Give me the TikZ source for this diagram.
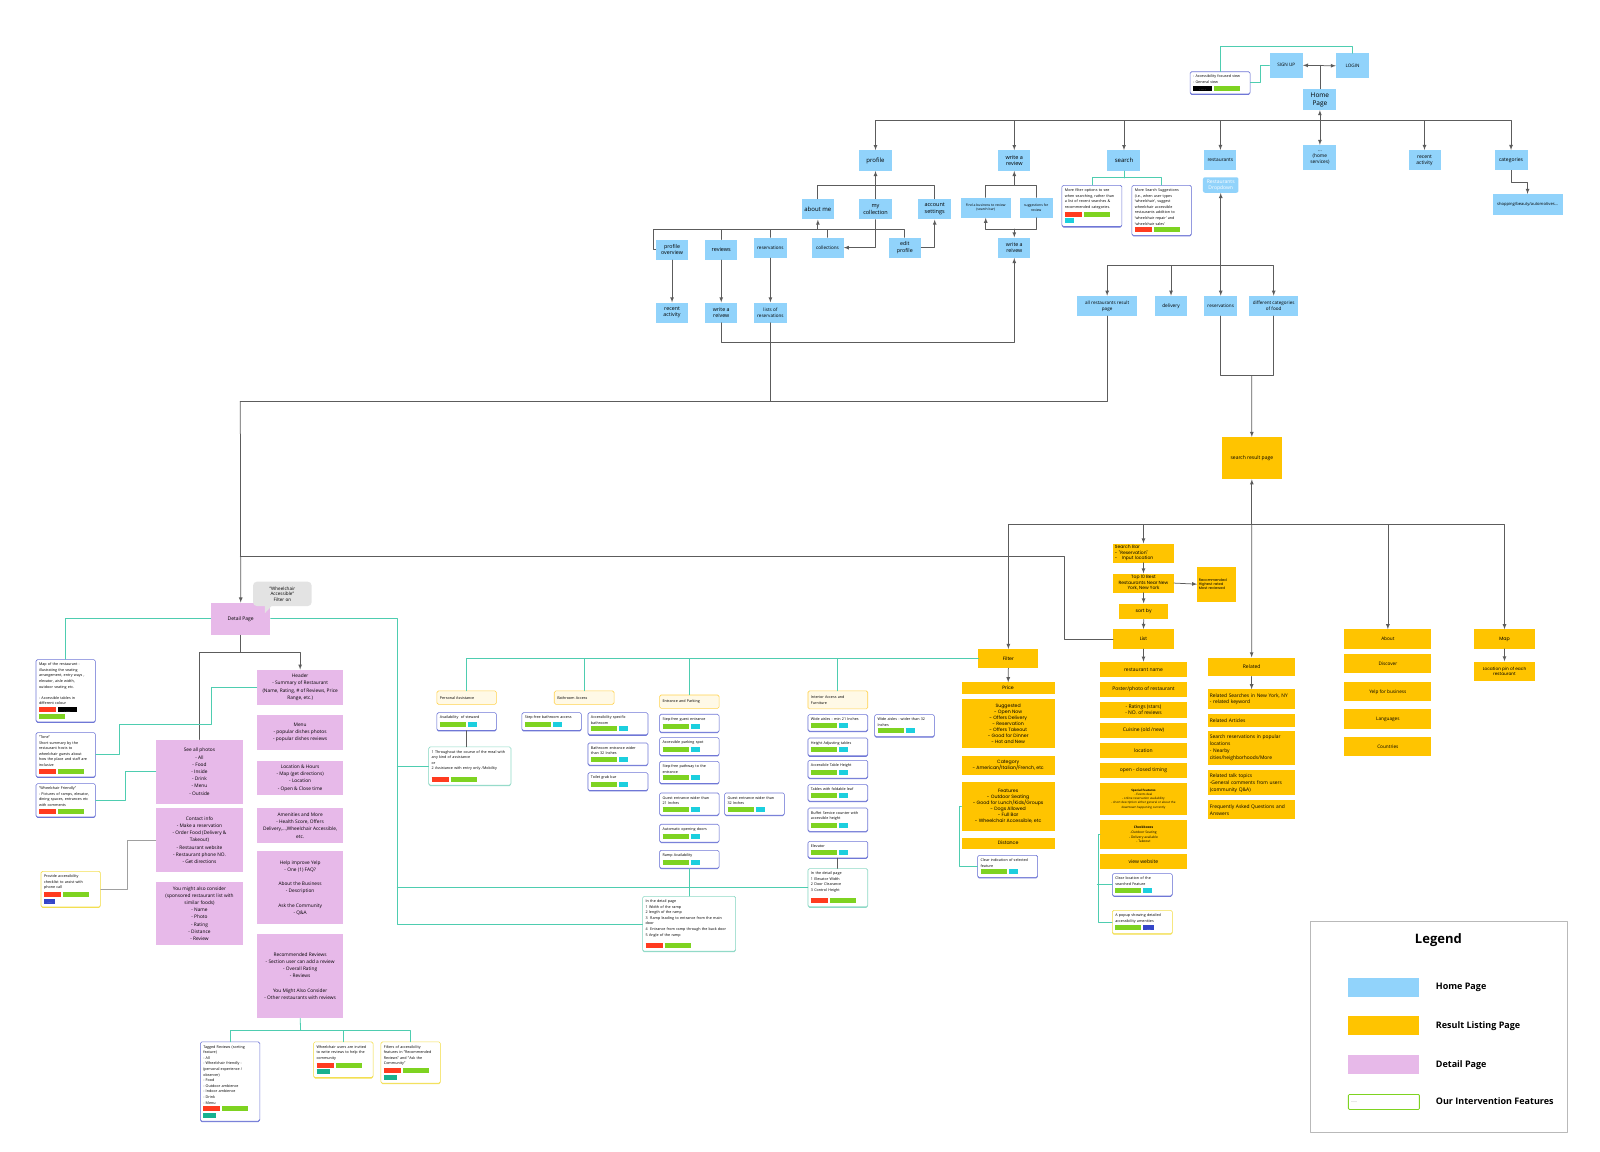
\documentclass[tikz,border=0pt]{standalone}
\usepackage{fontspec}
\setmainfont{Open Sans}
\newfontfamily\popfont{Poppins}
\usetikzlibrary{shadows}

\definecolor{hpblue}{HTML}{91D3FB}
\definecolor{rlorange}{HTML}{FFC400}
\definecolor{dppink}{HTML}{E7B9E9}
\definecolor{ivblue}{HTML}{6F77D6}
\definecolor{ivyellow}{HTML}{F3DF52}
\definecolor{ivteal}{HTML}{8ED9C6}
\definecolor{hdfill}{HTML}{FFF9E6}
\definecolor{hdedge}{HTML}{FFD24D}
\definecolor{linegray}{HTML}{5C5C5C}
\definecolor{paleline}{HTML}{A0A0A0}
\definecolor{tealc}{HTML}{4ECDB0}
\definecolor{barred}{HTML}{FF3B1F}
\definecolor{bargreen}{HTML}{7ED321}
\definecolor{barcyan}{HTML}{1CCFDE}
\definecolor{barblue}{HTML}{3446C8}
\definecolor{barteal}{HTML}{17B190}
\definecolor{bubblegray}{HTML}{E3E3E3}

\newcommand{\redbar}{\textcolor{barred}{\rule{17pt}{5pt}}}
\newcommand{\greenbar}{\textcolor{bargreen}{\rule{26pt}{5pt}}}
\newcommand{\cyanbar}{\textcolor{barcyan}{\rule{9pt}{5pt}}}
\newcommand{\tealbar}{\textcolor{barteal}{\rule{13pt}{5pt}}}
\newcommand{\blackbar}{\textcolor{black}{\rule{19pt}{5pt}}\hspace{-19pt}\makebox[19pt]{\textcolor{white}{\fontsize{3}{3}\selectfont .\,.\,.\,.\,.}}}
\newcommand{\bluebar}{\textcolor{barblue}{\rule{11pt}{5pt}}\hspace{-11pt}\makebox[11pt]{\textcolor{white}{\fontsize{2.5}{3}\selectfont ......}}}

\begin{document}
\begin{tikzpicture}[x=1.0204pt,y=-1.0204pt,line cap=round,line join=round,>=latex,
  hp/.style={fill=hpblue,inner sep=1pt,align=center,font=\fontsize{6}{7}\selectfont},
  rl/.style={fill=rlorange,inner sep=1.5pt,align=center,font=\fontsize{5}{6.5}\selectfont},
  pop/.style={rl,font=\popfont\fontsize{4.7}{6}\selectfont},
  dp/.style={fill=dppink,inner sep=1pt,align=center,font=\fontsize{4.8}{7.2}\selectfont},
  ivbase/.style={fill=white,line width=0.6pt,rounded corners=1.5pt,anchor=north west,align=left,
    inner xsep=3pt,inner ysep=3.3pt,font=\fontsize{3.7}{5.6}\selectfont},
  iv/.style={ivbase,draw=ivblue,drop shadow={shadow xshift=0pt,shadow yshift=-1pt,fill=ivblue,opacity=1}},
  ivy/.style={ivbase,draw=ivyellow,drop shadow={shadow xshift=0pt,shadow yshift=-1pt,fill=ivyellow,opacity=1}},
  ivt/.style={ivbase,draw=ivteal,drop shadow={shadow xshift=0pt,shadow yshift=-1pt,fill=ivteal,opacity=1}},
  hd/.style={fill=hdfill,draw=hdedge,line width=0.6pt,rounded corners=1.5pt,anchor=north west,align=left,
    inner xsep=3pt,font=\fontsize{3.7}{5.6}\selectfont},
  gl/.style={draw=linegray,line width=0.75pt},
  pl/.style={draw=paleline,line width=0.75pt},
  tl/.style={draw=tealc,line width=0.8pt}]
  \useasboundingbox (0,0) rectangle (1568,1128);

  % home page: top
  \node[hp,minimum width=33,minimum height=25,font=\fontsize{4.6}{5.5}\selectfont] (signup) at (1260.5,64) {SIGN UP};
  \node[hp,minimum width=33,minimum height=25,font=\fontsize{4.6}{5.5}\selectfont] (login) at (1325.5,64.5) {LOGIN};
  \node[hp,minimum width=33,minimum height=21,font=\fontsize{6.5}{8}\selectfont] (home) at (1293.5,97.5) {Home\\Page};
  \node[iv,text width=54pt] (accview) at (1166,70) {- Accessibility focused view\\- General view\\[1.5pt]\blackbar\hspace{2pt}\greenbar};
  \draw[gl,<->] (signup.east) -- (login.west);
  \draw[gl] (home.north) -- (home.north |- signup.east);
  \draw[tl] (accview.north) -- ++(0,-24.3) -| (login.north);
  \draw[tl] (signup.west) -- ++(-9.3,0) |- (accview.east);

  % home page: menu bar
  \coordinate (hbus) at (1293.5,117.6);
  \node[hp,minimum width=33,minimum height=20.5] (profile) at (858,157.3) {profile};
  \node[hp,minimum width=32,minimum height=20.5,font=\fontsize{5.5}{6.8}\selectfont] (writetop) at (994,157.3) {write a\\review};
  \node[hp,minimum width=33,minimum height=20.5] (search) at (1101.5,157.3) {search};
  \node[hp,minimum width=32,minimum height=20,font=\fontsize{4.8}{6}\selectfont] (restaurants) at (1196,157) {restaurants};
  \node[hp,minimum width=35.5,minimum height=15.5,rounded corners=2pt,text=white,font=\fontsize{5}{6}\selectfont] (dropdown) at (1196.3,181.3) {Restaurants\\Dropdown};
  \node[hp,minimum width=33,minimum height=25,font=\fontsize{4.8}{6}\selectfont] (homesvc) at (1293.5,154.5) {...\\(home\\services)};
  \node[hp,minimum width=32,minimum height=20,font=\fontsize{5}{6.5}\selectfont] (recentact) at (1396,157) {recent\\activity};
  \node[hp,minimum width=33,minimum height=20,font=\fontsize{5}{6}\selectfont] (categories) at (1480.8,157) {categories};
  \node[hp,minimum width=70,minimum height=21,font=\fontsize{4.1}{5}\selectfont] (shopping) at (1497,200.5) {shopping/beauty/automotives...};
  \draw[gl,<->] (home.south) -- (homesvc.north);
  \draw[gl,->] (hbus) -| (profile.north);
  \draw[gl,->] (hbus) -| (writetop.north);
  \draw[gl,->] (hbus) -| (search.north);
  \draw[gl,->] (hbus) -| (restaurants.north);
  \draw[gl,->] (hbus) -| (recentact.north);
  \draw[gl,->] (hbus) -| (categories.north);
  \draw[gl,->] (categories.south) -- ++(0,11.6) -| (shopping.north);

  % profile
  \node[hp,minimum width=32,minimum height=20.5] (aboutme) at (801.5,205) {about me};
  \node[hp,minimum width=33,minimum height=20.5,font=\fontsize{5.5}{6.8}\selectfont] (mycoll) at (858,205) {my\\collection};
  \node[hp,minimum width=33,minimum height=20.5,font=\fontsize{5.5}{6.8}\selectfont] (acctset) at (916,205) {account\\settings};
  \node[hp,minimum width=32.4,minimum height=20.2,font=\fontsize{5.3}{6.6}\selectfont] (profov) at (658.6,244.7) {profile\\overview};
  \node[hp,minimum width=32.4,minimum height=20.2,font=\fontsize{5.5}{6.8}\selectfont] (reviews) at (706.8,244.7) {reviews};
  \node[hp,minimum width=33,minimum height=20.2,font=\fontsize{4.6}{6}\selectfont] (reserv) at (755,242.7) {reservations};
  \node[hp,minimum width=32,minimum height=20.2,font=\fontsize{4.6}{6}\selectfont] (collections) at (811,242.7) {collections};
  \node[hp,minimum width=32.4,minimum height=20.2,font=\fontsize{5.3}{6.6}\selectfont] (editprof) at (886.7,242.7) {edit\\profile};
  \node[hp,minimum width=32.4,minimum height=20,font=\fontsize{5.3}{6.6}\selectfont] (recent2) at (658.6,306.3) {recent\\activity};
  \node[hp,minimum width=32.4,minimum height=20,font=\fontsize{5.3}{6.6}\selectfont] (writeb) at (706.8,306.3) {write a\\reivew};
  \node[hp,minimum width=33,minimum height=20,font=\fontsize{4.6}{6}\selectfont] (listres) at (755,306.3) {lists of\\reservations};
  \coordinate (abar) at (801.5,224.4);
  \draw[gl,->] (mycoll.north) -- (profile.south);
  \draw[gl] (aboutme.north) -- ++(0,-13.4) -| (acctset.north);
  \draw[gl,->] (abar) -- (aboutme.south);
  \draw[gl] (profov.west) -- ++(-2,0) |- (abar);
  \draw[gl] (reviews.north) |- (abar);
  \draw[gl] (reserv.north) |- (abar);
  \draw[gl] (collections.north) |- (abar);
  \draw[gl] (editprof.north) |- (abar);
  \draw[gl,->] (mycoll.south) |- (collections.east);
  \draw[gl,->] (editprof.east) -| (acctset.south);
  \draw[gl,->] (profov.south) -- (recent2.north);
  \draw[gl,->] (reviews.south) -- (writeb.north);
  \draw[gl,->] (reserv.south) -- (listres.north);

  % write a review
  \node[hp,minimum width=49.7,minimum height=20,font=\fontsize{3.4}{4.6}\selectfont] (findbiz) at (966,203.4) {Find a business to review\\(search bar)};
  \node[hp,minimum width=32.7,minimum height=20,font=\fontsize{3.4}{4.6}\selectfont] (suggest) at (1015.5,203.4) {suggestions for\\review};
  \node[hp,minimum width=32.4,minimum height=20.2,font=\fontsize{5.3}{6.6}\selectfont] (writemid) at (994,242.7) {write a\\reivew};
  \coordinate (wbar) at (994,181.6);
  \coordinate (wjoin) at (994,224.4);
  \draw[gl,->] (wbar) -- (writetop.south);
  \draw[gl] (findbiz.north) |- (wbar) -| (suggest.north);
  \draw[gl,<-] (findbiz.south) |- (wjoin);
  \draw[gl] (suggest.south) |- (wjoin);
  \draw[gl,->] (wjoin) -- (writemid.north);
  \draw[gl,->] (writeb.south) -- ++(0,19.2) -| (writemid.south);

  % search
  \node[iv,text width=54pt] (sbox1) at (1040.4,181.3) {More filter options to see\\when searching, rather than\\a list of recent searches \&\\recommended categories.\\[1.5pt]\redbar\hspace{2pt}\greenbar\\[1pt]\cyanbar};
  \node[iv,text width=53.5pt] (sbox2) at (1109,181.3) {More Search Suggestions\\(i.e., when user types\\'wheelchair', suggest\\wheelchair accessible\\restaurants addition to\\'wheelchair repair' and\\'wheelchair sales'\\[1.5pt]\redbar\hspace{2pt}\greenbar};
  \coordinate (sbar) at (1101.5,174.3);
  \draw[tl] (search.south) -- (sbar);
  \draw[tl] (sbox1.north) |- (sbar) -| (sbox2.north);

  % restaurants dropdown
  \node[hp,minimum width=59.8,minimum height=20,font=\fontsize{4.6}{6}\selectfont] (allres) at (1085,299.8) {all restaurants result\\page};
  \node[hp,minimum width=32.6,minimum height=20,font=\fontsize{4.8}{6}\selectfont] (delivery) at (1147.6,299.8) {delivery};
  \node[hp,minimum width=32.6,minimum height=20,font=\fontsize{4.6}{6}\selectfont] (resv2) at (1196.3,299.8) {reservations};
  \node[hp,minimum width=49.6,minimum height=20,font=\fontsize{4.6}{6}\selectfont] (diffcat) at (1248.2,299.8) {different categories\\of food};
  \node[rl,minimum width=60.4,minimum height=42,font=\fontsize{5}{6}\selectfont] (srp) at (1226.8,449) {search result page};
  \coordinate (rbar) at (1196.3,260);
  \coordinate (srpin) at (1226.6,368.2);
  \draw[gl,<-] (dropdown.south) -- (rbar);
  \draw[gl,->] (rbar) -| (allres.north);
  \draw[gl,->] (rbar) -| (delivery.north);
  \draw[gl,->] (rbar) -- (resv2.north);
  \draw[gl,->] (rbar) -| (diffcat.north);
  \draw[gl] (resv2.south) |- (srpin);
  \draw[gl] (diffcat.south) |- (srpin);
  \draw[gl,->] (srpin) -- (srp.north);

  % result listing page
  \coordinate (rsbus) at (1226.8,513.5);
  \node[pop,minimum width=60,minimum height=19] (filter) at (988.2,645.5) {Filter};
  \node[pop,minimum width=93,minimum height=11.4] (price) at (988,674.4) {Price};
  \node[pop,minimum width=93,minimum height=49] (suggested) at (988,709.5) {Suggested\\- Open Now\\- Offers Delivery\\- Reservation\\- Offers Takeout\\- Good for Dinner\\- Hot and New};
  \node[pop,minimum width=93,minimum height=19.6] (category) at (988,750) {Category\\- American/Italian/French, etc};
  \node[pop,minimum width=93,minimum height=49] (features) at (988,790.5) {Features\\- Outdoor Seating\\- Good for Lunch/Kids/Groups\\- Dogs Allowed\\- Full Bar\\- Wheelchair Accessible, etc};
  \node[pop,minimum width=93,minimum height=11] (distance) at (988,826.2) {Distance};
  \node[iv,text width=54pt] (clearind) at (957.8,837.9) {Clear indication of selected\\feature\\[1.5pt]\greenbar\hspace{2pt}\cyanbar};
  \draw[gl,<-] (srp.south) -- (rsbus);
  \draw[gl,->] (rsbus) -| (filter.north);
  \draw[gl,->] (filter.south) -- (price.north);
  \draw[tl] (features.west) -- ++(-1.7,0) |- (clearind.west);

  \node[pop,minimum width=60.4,minimum height=19,text width=57pt,align=left,font=\popfont\fontsize{4.5}{5.6}\selectfont] (searchbar) at (1120.6,542) {Search Bar\\- "Reservation"\\-\quad Input location};
  \node[pop,minimum width=60.4,minimum height=19,font=\popfont\fontsize{4.5}{5.6}\selectfont] (top10) at (1120.6,571.4) {Top 10 Best\\Restaurants Near New\\York, New York};
  \node[pop,minimum width=39,minimum height=35,text width=36pt,align=left,font=\popfont\fontsize{3.6}{4.4}\selectfont] (recomm) at (1192.5,572.5) {Recommended\\Highest rated\\Most reviewed};
  \node[pop,minimum width=48.4,minimum height=15.7] (sortby) at (1120.8,599.2) {sort by};
  \node[pop,minimum width=60.4,minimum height=19.6] (list) at (1120.6,626.2) {List};
  \node[rl,minimum width=86.6,minimum height=15.4] (rname) at (1120.6,656.1) {restaurant name};
  \node[rl,minimum width=86.6,minimum height=15.4] (poster) at (1120.6,675.7) {Poster/photo of restaurant};
  \node[rl,minimum width=86.6,minimum height=15.3,font=\fontsize{5}{6}\selectfont] (ratings) at (1120.6,695.65) {- Ratings (stars)\\- NO. of reviews};
  \node[rl,minimum width=86.6,minimum height=15.3] (cuisine) at (1120.6,715.55) {Cuisine (old /new)};
  \node[rl,minimum width=86.6,minimum height=15.3] (location) at (1120.6,735.15) {location};
  \node[rl,minimum width=86.6,minimum height=15.3] (openclose) at (1120.6,754.75) {open - closed timing};
  \node[rl,minimum width=86.6,minimum height=32,font=\fontsize{3}{4.2}\selectfont] (special) at (1120.6,783) {\textbf{Special Features}\\- Events deal\\- online reservation availability\\- short description either general or about the\\downtown happening currently};
  \node[rl,minimum width=86.6,minimum height=28.4,font=\fontsize{3.3}{4.6}\selectfont] (checkb) at (1120.6,817.8) {\textbf{Checkboxes}\\-Outdoor Seating\\- Delivery available\\- Takeout};
  \node[rl,minimum width=86.6,minimum height=15.3] (viewweb) at (1120.6,843.95) {view website};
  \node[iv,text width=54pt] (clearloc) at (1089.8,855.9) {Clear location of the\\searched Feature\\[1.5pt]\greenbar\hspace{2pt}\cyanbar};
  \node[ivy,text width=54pt] (popup) at (1089.8,891.8) {A popup showing detailed\\accessibility amenities\\[1.5pt]\greenbar\hspace{2pt}\bluebar};
  \coordinate (dmid) at (235.5,545);
  \draw[gl,->] (rsbus) -| (searchbar.north);
  \draw[gl,->] (searchbar.south) -- (top10.north);
  \draw[gl,->] (top10.east) -- (recomm.west);
  \draw[gl,->] (top10.south) -- (sortby.north);
  \draw[gl,->] (sortby.south) -- (list.north);
  \draw[gl,->] (list.south) -- (rname.north);
  \draw[gl] (list.west) -- ++(-47.4,0) |- (dmid);
  \draw[tl] (checkb.west) -- ++(-2,0) |- (popup.west);
  \draw[tl] (clearloc.west) -- ++(-14.4,0);

  \node[rl,minimum width=86.8,minimum height=18.8] (related) at (1226.6,653.6) {Related};
  \node[rl,minimum width=86.8,minimum height=19.3,text width=83.5pt,align=left,font=\fontsize{4.9}{6.6}\selectfont] (relsearch) at (1226.6,685.15) {Related Searches in New York, NY\\- related keyword};
  \node[rl,minimum width=86.8,minimum height=12.1,text width=83.5pt,align=left,font=\fontsize{4.9}{6.6}\selectfont] (relart) at (1226.6,706.05) {Related Articles};
  \node[rl,minimum width=86.8,minimum height=33.3,text width=83.5pt,align=left,font=\fontsize{4.9}{7}\selectfont] (searchres) at (1226.6,733.05) {Search reservations in popular\\locations\\- Nearby\\cities/heighborhoods/More};
  \node[rl,minimum width=86.8,minimum height=25.2,text width=83.5pt,align=left,font=\fontsize{4.9}{7}\selectfont] (reltalk) at (1226.6,767.2) {Related talk topics\\-General comments from users\\(community Q\&A)};
  \node[rl,minimum width=86.8,minimum height=19,text width=83.5pt,align=left,font=\fontsize{4.9}{7}\selectfont] (faq) at (1226.6,793.5) {Frequently Asked Questions and\\Answers};
  \draw[gl,->] (rsbus) -- (related.north);
  \draw[gl,->] (related.south) -- (relsearch.north);

  \node[rl,minimum width=87.2,minimum height=19.2,font=\fontsize{4.7}{6}\selectfont] (about) at (1360.1,626.3) {About};
  \node[rl,minimum width=87.2,minimum height=19.2,font=\fontsize{4.7}{6}\selectfont] (discover) at (1360.1,650.6) {Discover};
  \node[rl,minimum width=87.2,minimum height=19.2,font=\fontsize{4.7}{6}\selectfont] (yelpbiz) at (1360.1,678) {Yelp for business};
  \node[rl,minimum width=87.2,minimum height=19.2,font=\fontsize{4.7}{6}\selectfont] (lang) at (1360.1,704.6) {Languages};
  \node[rl,minimum width=87.2,minimum height=19.2,font=\fontsize{4.7}{6}\selectfont] (countries) at (1360.1,731.9) {Countries};
  \node[pop,minimum width=60.4,minimum height=19.2] (map) at (1474.4,626.3) {Map};
  \node[pop,minimum width=60.4,minimum height=19.2,font=\popfont\fontsize{4.3}{5.3}\selectfont] (pin) at (1474.4,657.7) {Location pin of each\\restaurant};
  \draw[gl,->] (rsbus) -| (about.north);
  \draw[gl,->] (rsbus) -| (map.north);
  \draw[gl,->] (map.south) -- (pin.north);

  % accessibility features under the filter
  \node[hd,text width=53.5pt,minimum height=13.4] (pa) at (427.9,676.8) {Personal Assistance};
  \node[hd,text width=53.8pt,minimum height=13.4] (ba) at (542.9,676.8) {Bathroom Access};
  \node[hd,text width=53.5pt,minimum height=13.4] (ep) at (646.1,680.8) {Entrance and Parking};
  \node[hd,text width=53.8pt,minimum height=18] (ia) at (791.5,676.8) {Interior Access and\\Furniture};
  \draw[tl] (filter.west) -| (pa.north);
  \draw[tl] (filter.west) -| (ba.north);
  \draw[tl] (filter.west) -| (ep.north);
  \draw[tl] (filter.west) -| (ia.north);

  \node[iv,text width=53.5pt] (steward) at (427.9,698.1) {Availability\ \ of steward\\[1.5pt]\greenbar\hspace{2pt}\cyanbar};
  \node[ivt,text width=76.3pt] (pad) at (419.8,731.7) {1 Throughout the course of the meal with\\any kind of assistance\\or\\2 Assistance with entry only /Mobility\\[5pt]\redbar\hspace{2pt}\greenbar};
  \draw[gl] (steward.south) -- (steward.south |- pad.north);

  \node[iv,text width=53.5pt] (sfba) at (511.2,698.1) {Step-free bathroom access\\[1.5pt]\greenbar\hspace{2pt}\cyanbar};
  \node[iv,text width=54pt] (asb) at (575.9,698.1) {Accessibility specific\\bathroom\\[1.5pt]\greenbar\hspace{2pt}\cyanbar};
  \node[iv,text width=54pt] (bew) at (575.9,727.8) {Bathroom entrance wider\\than 32 Inches\\[1.5pt]\greenbar\hspace{2pt}\cyanbar};
  \node[iv,text width=54pt] (tgb) at (575.9,756.9) {Toilet grab bar\\[1.5pt]\greenbar\hspace{2pt}\cyanbar};

  \node[iv,text width=53.5pt] (sfge) at (646.1,699.7) {Step-free guest entrance\\[1.5pt]\greenbar\hspace{2pt}\cyanbar};
  \node[iv,text width=53.5pt] (aps) at (646.1,722.6) {Accessible parking spot\\[1.5pt]\greenbar\hspace{2pt}\cyanbar};
  \node[iv,text width=53.5pt] (sfpe) at (646.1,745.8) {Step-free pathway to the\\entrance\\[1.5pt]\greenbar\hspace{2pt}\cyanbar};
  \node[iv,text width=53.5pt] (gew21) at (646.1,776.8) {Guest entrance wider than\\21 Inches\\[1.5pt]\greenbar\hspace{2pt}\cyanbar};
  \node[iv,text width=53.8pt] (gew32) at (709.8,776.8) {Guest entrance wider than\\32 Inches\\[1.5pt]\greenbar\hspace{2pt}\cyanbar};
  \node[iv,text width=53.5pt] (aod) at (646.1,807.5) {Automatic opening doors\\[1.5pt]\greenbar\hspace{2pt}\cyanbar};
  \node[iv,text width=53.5pt] (rampav) at (646.1,833) {Ramp Availability\\[1.5pt]\greenbar\hspace{2pt}\cyanbar};
  \node[ivt,text width=87pt] (rampd) at (629.5,878.1) {In the detail page\\1 Width of the ramp\\2 length of the ramp\\3\ \ Ramp leading to entrance from the main\\door\\4\ \ Entrance from ramp through the back door\\5 Angle of the ramp\\[5pt]\redbar\hspace{2pt}\greenbar};
  \draw[tl] (rampav.south) -- (rampav.south |- rampd.north);

  \node[iv,text width=53.8pt] (wa21) at (791.5,700) {Wide aisles - min 21 Inches\\[1.5pt]\greenbar\hspace{2pt}\cyanbar};
  \node[iv,text width=53.8pt] (wa32) at (856.8,700) {Wide aisles - wider than 32\\Inches\\[1.5pt]\greenbar\hspace{2pt}\cyanbar};
  \node[iv,text width=53.8pt] (hat) at (791.5,722.9) {Height Adjusting tables\\[1.5pt]\greenbar\hspace{2pt}\cyanbar};
  \node[iv,text width=53.8pt] (ath) at (791.5,744.8) {Accessible Table Height\\[1.5pt]\greenbar\hspace{2pt}\cyanbar};
  \node[iv,text width=53.8pt] (tfl) at (791.5,768.6) {Tables with foldable leaf\\[1.5pt]\greenbar\hspace{2pt}\cyanbar};
  \node[iv,text width=53.8pt] (bsc) at (791.5,791.5) {Buffet Service counter with\\accessible height\\[1.5pt]\greenbar\hspace{2pt}\cyanbar};
  \node[iv,text width=53.8pt] (elev) at (791.5,824.2) {Elevator\\[1.5pt]\greenbar\hspace{2pt}\cyanbar};
  \node[ivt,text width=53.8pt] (elevd) at (791.5,851) {In the detail page\\1 Elevator Width\\2 Door Clearance\\3 Control Height\\[5pt]\redbar\hspace{2pt}\greenbar};
  \draw[gl] (elev.south) -- (elev.south |- elevd.north);

  % detail page
  \coordinate (dtop) at (235.5,393.5);
  \node[dp,minimum width=59.5,minimum height=32.3,font=\fontsize{5}{6}\selectfont] (detail) at (235.9,606.5) {Detail Page};
  \node[fill=bubblegray,rounded corners=4pt,minimum width=58.7,minimum height=24.5,inner sep=1pt,align=center,font=\fontsize{4.6}{5.4}\selectfont] (bubble) at (276.7,582) {"Wheelchair\\Accessible"\\Filter on};
  \fill[bubblegray] (259.5,593) -- (259.5,601) -- (267,593) -- cycle;
  \draw[gl] (listres.south) |- (dtop);
  \draw[gl] (allres.south) |- (dtop);
  \draw[gl,->] (dtop) -- (detail.north);

  \node[dp,minimum width=87.2,minimum height=64.1] (seeall) at (195.5,756.25) {See all photos\\- All\\- Food\\- Inside\\- Drink\\- Menu\\- Outside};
  \node[dp,minimum width=87.2,minimum height=64] (contact) at (195.5,823.2) {Contact info\\- Make a reservation\\- Order Food (Delivery \&\\Takeout)\\- Restaurant website\\- Restaurant phone NO.\\- Get directions};
  \node[dp,minimum width=87.2,minimum height=63.7] (youmight) at (195.5,895.25) {You might also consider\\(sponsored restaurant list with\\similar foods)\\- Name\\- Photo\\- Rating\\- Distance\\- Review};
  \node[dp,minimum width=86.5,minimum height=34.9] (header) at (294.15,673.45) {Header\\- Summary of Restaurant\\(Name, Rating, \# of Reviews, Price\\Range, etc.)};
  \node[dp,minimum width=86.5,minimum height=34.3] (menu) at (294.15,717.85) {Menu\\- popular dishes photos\\- popular dishes reviews};
  \node[dp,minimum width=86.5,minimum height=34.4] (lochours) at (294.15,762.6) {Location \& Hours\\- Map (get directions)\\- Location\\- Open \& Close time};
  \node[dp,minimum width=86.5,minimum height=35] (amen) at (294.15,809) {Amenities and More\\- Health Score, Offers\\Delivery,...,Wheelchair Accessible,\\etc.};
  \node[dp,minimum width=86.5,minimum height=72.9] (help) at (294.15,870.05) {Help improve Yelp\\- One (1) FAQ?\\[7.2pt]About the Business\\- Description\\[7.2pt]Ask the Community\\- Q\&A};
  \node[dp,minimum width=86.5,minimum height=83.9] (recrev) at (294.15,956.65) {Recommended Reviews\\- Section user can add a review\\- Overall Rating\\- Reviews\\[7.2pt]You Might Also Consider\\- Other restaurants with reviews};
  \coordinate (dsplit) at (235.9,639);
  \draw[gl] (detail.south) -- (dsplit);
  \draw[gl] (dsplit) -| (seeall.north);
  \draw[gl,->] (dsplit) -| (header.north);

  \node[iv,text width=53.4pt] (mapr) at (35,646.1) {Map of the restaurant -\\illustrating the seating\\arrangement, entry ways ,\\elevator, aisle width,\\outdoor seating etc.\\[5.6pt]- Accessible tables in\\different colour\\[1.5pt]\redbar\hspace{2pt}\blackbar\\[1pt]\greenbar};
  \node[iv,text width=53.4pt] (tone) at (35,717.7) {"Tone"\\Short summary by the\\restaurant hosts to\\wheelchair guests about\\how the place and staff are\\inclusive\\[1.5pt]\redbar\hspace{2pt}\greenbar};
  \node[iv,text width=53.4pt] (wfr) at (35,767.7) {"Wheelchair Friendly"\\- Pictures of ramps, elevator,\\dining spaces, entrances etc\\with comments\\[1.5pt]\redbar\hspace{2pt}\greenbar};
  \node[ivy,text width=53.4pt] (prov) at (39.9,853.6) {Provide accessibility\\checklist to assist with\\phone call\\[1.5pt]\redbar\hspace{2pt}\greenbar\\[1pt]\bluebar};
  \draw[tl] (detail.west) -| (mapr.north);
  \draw[tl] (tone.east) -- ++(23.2,0) |- (207.4,709.9) |- (header.west);
  \draw[tl] (wfr.east) -- ++(29,0) |- (seeall.west);
  \draw[pl] (prov.east) -- ++(26.5,0) |- (contact.west);

  \coordinate (dv) at (389.4,905.5);
  \draw[tl] (detail.east) -| (dv) -- (dv -| rampd.west);
  \draw[tl] (pad.west) -- (pad.west -| dv);
  \draw[tl] (elevd.west) -- (elevd.west -| dv);

  \node[iv,text width=53.5pt] (tagged) at (196,1020.8) {Tagged Reviews (sorting\\feature)\\- All\\- Wheelchair friendly -\\(personal experience /\\observer)\\- Food\\- Outdoor ambience\\- Indoor ambience\\- Drink\\- Menu\\[1.5pt]\redbar\hspace{2pt}\greenbar\\[1pt]\tealbar};
  \node[ivy,text width=53.5pt] (wcu) at (307,1020.8) {Wheelchair users are invited\\to write reviews to help the\\community\\[1.5pt]\redbar\hspace{2pt}\greenbar\\[1pt]\tealbar};
  \node[ivy,text width=53.5pt] (filtacc) at (373,1020.8) {Filters of accessibility\\features in "Recommended\\Reviews" and "Ask the\\Community"\\[1.5pt]\redbar\hspace{2pt}\greenbar\\[1pt]\tealbar};
  \coordinate (rrbar) at (294.6,1009.4);
  \draw[tl] (recrev.south) -- (rrbar);
  \draw[tl] (rrbar) -| (tagged.north);
  \draw[tl] (rrbar) -| (wcu.north);
  \draw[tl] (rrbar) -| (filtacc.north);

  % legend
  \draw[draw=gray!55,line width=0.8pt] (1283.8,902.5) rectangle (1536,1109.4);
  \node[font=\bfseries\fontsize{13}{15}\selectfont] (legendtitle) at (1409.6,921.4) {Legend};
  \node[fill=hpblue,minimum width=71,minimum height=18.9,inner sep=0] (keyhp) at (1356.2,967.6) {};
  \node[fill=rlorange,minimum width=71,minimum height=19.2,inner sep=0] (keyrl) at (1356.2,1005.3) {};
  \node[fill=dppink,minimum width=71,minimum height=19.5,inner sep=0] (keydp) at (1356.2,1043.2) {};
  \node[draw=bargreen,line width=0.8pt,rounded corners=1pt,fill=white,minimum width=71,minimum height=15,inner sep=0,font=\fontsize{4}{4}\selectfont] (keyiv) at (1356.2,1079.9) {\makebox[66pt][l]{\textcolor{gray}{......}}};
  \node[anchor=west,font=\bfseries\fontsize{9}{11}\selectfont] (keyhplabel) at (1403.7,968) {Home Page};
  \node[anchor=west,font=\bfseries\fontsize{9}{11}\selectfont] (keyrllabel) at (1403.7,1005.8) {Result Listing Page};
  \node[anchor=west,font=\bfseries\fontsize{9}{11}\selectfont] (keydplabel) at (1403.7,1043.6) {Detail Page};
  \node[anchor=west,font=\bfseries\fontsize{9}{11}\selectfont] (keyivlabel) at (1403.7,1079.4) {Our Intervention Features};
\end{tikzpicture}
\end{document}
